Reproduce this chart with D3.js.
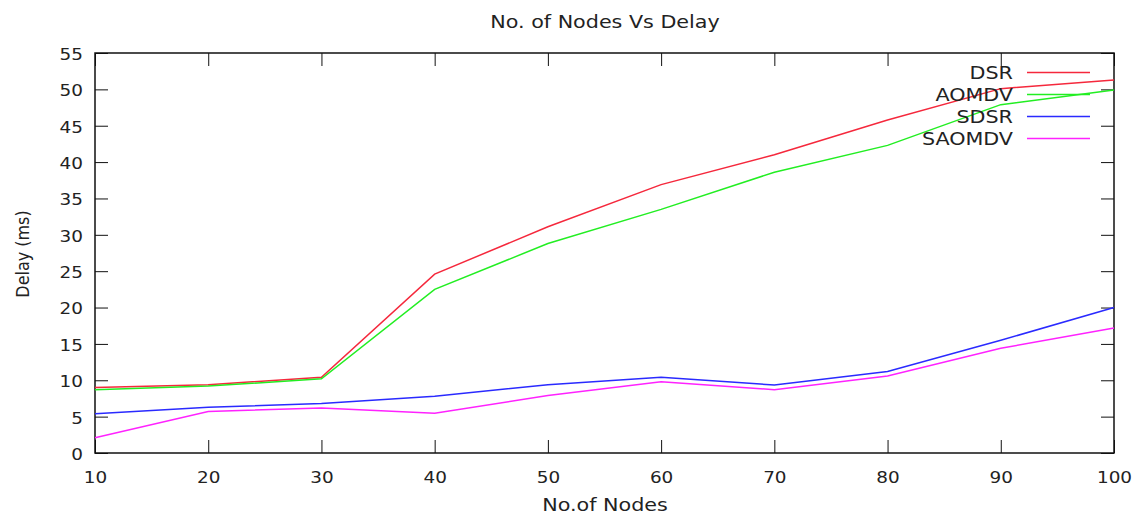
<!DOCTYPE html>
<html>
<head>
<meta charset="utf-8">
<script src="https://cdn.jsdelivr.net/npm/d3@7"></script>
<style>
  body { margin: 0; background: #fff; }
  text { font-family: "DejaVu Sans", Verdana, sans-serif; fill: #222; }
</style>
</head>
<body>
<div class="chart"></div>
<script>
// values
let nodes = [10, 20, 30, 40, 50, 60, 70, 80, 90, 100];
let dsr = [9.0, 9.4, 10.4, 24.6, 31.1, 36.9, 41.0, 45.8, 50.1, 51.3];
let aomdv = [8.7, 9.2, 10.2, 22.5, 28.8, 33.5, 38.6, 42.3, 47.9, 49.9];
let sdsr = [5.4, 6.3, 6.8, 7.8, 9.4, 10.4, 9.35, 11.2, 15.5, 20.0];
let saomdv = [2.1, 5.7, 6.2, 5.45, 7.9, 9.8, 8.7, 10.6, 14.4, 17.2];
let seriesNames = ['DSR', 'AOMDV', 'SDSR', 'SAOMDV'];
let seriesColors = ['#f5283c', '#22ee22', '#2a2aff', '#ff22ff'];
let yTicks = [0, 5, 10, 15, 20, 25, 30, 35, 40, 45, 50, 55];

let allSeries = [dsr, aomdv, sdsr, saomdv];

let width = 1141, height = 516;
let plotLeft = 95, plotRight = 1114, plotTop = 53, plotBottom = 453;
// the original picture is a bit wider than tall, so text is stretched sideways
let stretchX = 1.15;

let svg = d3.select('.chart')
	.append('svg')
	.attr('width', width)
	.attr('height', height);

function stretch(sel) {
	sel.each(function () {
		let t = d3.select(this);
		let x0 = +t.attr('x') || 0;
		t.attr('transform', `translate(${x0},0) scale(${stretchX},1) translate(${-x0},0)`);
	});
}

let x = d3.scaleLinear().domain([10, 100]).range([plotLeft, plotRight]);
let y = d3.scaleLinear().domain([0, 55]).range([plotBottom, plotTop]);

// ticks pointing inward on all four sides
let tickLen = 13;
let tickColor = '#111';
svg.append('g')
	.attr('transform', `translate(0,${plotBottom})`)
	.call(d3.axisBottom(x).tickValues(nodes).tickSize(-tickLen).tickPadding(19))
	.call(g => g.select('.domain').remove())
	.call(g => g.selectAll('line').attr('stroke', tickColor))
	.call(g => g.selectAll('text').attr('font-size', '16px').attr('fill', '#222').call(stretch));

svg.append('g')
	.attr('transform', `translate(0,${plotTop})`)
	.call(d3.axisTop(x).tickValues(nodes).tickSize(-tickLen).tickFormat(''))
	.call(g => g.select('.domain').remove())
	.call(g => g.selectAll('line').attr('stroke', tickColor));

svg.append('g')
	.attr('transform', `translate(${plotLeft},0)`)
	.call(d3.axisLeft(y).tickValues(yTicks).tickSize(-tickLen).tickPadding(12))
	.call(g => g.select('.domain').remove())
	.call(g => g.selectAll('line').attr('stroke', tickColor))
	.call(g => g.selectAll('text').attr('font-size', '16px').attr('fill', '#222').attr('dy', '0.4em').call(stretch));

svg.append('g')
	.attr('transform', `translate(${plotRight},0)`)
	.call(d3.axisRight(y).tickValues(yTicks).tickSize(-tickLen).tickFormat(''))
	.call(g => g.select('.domain').remove())
	.call(g => g.selectAll('line').attr('stroke', tickColor));

// frame
svg.append('rect')
	.attr('x', plotLeft)
	.attr('y', plotTop)
	.attr('width', plotRight - plotLeft)
	.attr('height', plotBottom - plotTop)
	.attr('fill', 'none')
	.attr('stroke', '#111')
	.attr('stroke-width', 1.5);

// lines
let line = d3.line()
	.x((d, i) => x(nodes[i]))
	.y(d => y(d));

svg.append('g')
	.selectAll('path')
	.data(allSeries)
	.join('path')
	.attr('d', d => line(d))
	.attr('fill', 'none')
	.attr('stroke', (d, i) => seriesColors[i])
	.attr('stroke-width', 1.5);

// legend
let legend = svg.append('g')
	.selectAll('g')
	.data(seriesNames)
	.join('g')
	.attr('transform', (d, i) => `translate(0,${72.5 + i * 22})`);

legend.append('text')
	.text(d => d)
	.attr('x', 1013)
	.attr('y', 6.5)
	.attr('text-anchor', 'end')
	.attr('font-size', '18px')
	.call(stretch);

legend.append('line')
	.attr('x1', 1027)
	.attr('x2', 1090)
	.attr('y1', 0)
	.attr('y2', 0)
	.attr('stroke', (d, i) => seriesColors[i])
	.attr('stroke-width', 1.5);

// titles
svg.append('text')
	.text('No. of Nodes Vs Delay')
	.attr('x', 605)
	.attr('y', 28)
	.attr('text-anchor', 'middle')
	.attr('font-size', '18px')
	.call(stretch);

svg.append('text')
	.text('No.of Nodes')
	.attr('x', 605)
	.attr('y', 511)
	.attr('text-anchor', 'middle')
	.attr('font-size', '18px')
	.call(stretch);

svg.append('text')
	.text('Delay (ms)')
	.attr('transform', `translate(29,254) scale(${stretchX},1) rotate(-90)`)
	.attr('text-anchor', 'middle')
	.attr('font-size', '16px');
</script>
</body>
</html>
